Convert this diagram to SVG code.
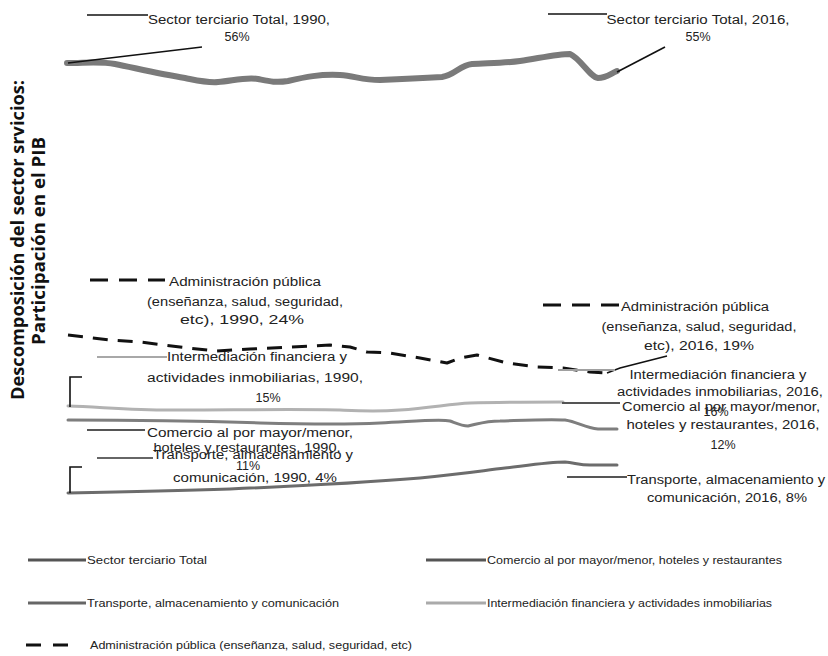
<svg xmlns="http://www.w3.org/2000/svg" width="828" height="656" viewBox="0 0 828 656">
<style>
  .lbl { font-family: "Liberation Sans", "DejaVu Sans", sans-serif; font-size: 12.5px; fill: #222; text-anchor: middle; }
  .leg { font-family: "Liberation Sans", "DejaVu Sans", sans-serif; font-size: 11px; fill: #222; }
  .ttl { font-family: "Open Sans", "Liberation Sans", sans-serif; font-size: 18px; font-weight: bold; fill: #111; text-anchor: middle; }
  .ser { fill: none; stroke-linejoin: round; stroke-linecap: round; }
  .total { stroke: #7a7a7a; stroke-width: 6; }
  .com { stroke: #7e7e7e; stroke-width: 3; }
  .tra { stroke: #6c6c6c; stroke-width: 3; }
  .int { stroke: #b2b2b2; stroke-width: 3; }
  .adm { stroke: #111; stroke-width: 3; stroke-dasharray: 15 10; stroke-linecap: butt; }
  .lead { fill: none; stroke: #111; stroke-width: 1.6; }
</style>
<rect width="828" height="656" fill="#fff"/>

<g id="axis-title">
  <text class="ttl" transform="translate(24,240) rotate(-90)" textLength="320" lengthAdjust="spacingAndGlyphs">Descomposición  del sector srvicios:</text>
  <text class="ttl" transform="translate(45,241) rotate(-90)" textLength="208" lengthAdjust="spacingAndGlyphs">Participación  en el PIB</text>
</g>

<g id="series-total">
  <path class="ser total" d="M67,63 C85,63 100,61 115,64 C135,68 160,74 185,78 C200,81 208,83 218,82 C232,81 245,77 258,79 C268,81 275,83 288,81 C305,77 320,74 340,75 C355,76 362,80 380,80 C405,79 425,78 442,77 C455,75 460,65 472,64 C490,63 505,63 520,61 C540,58 558,54 570,54 C580,58 590,77 598,78 C606,78 610,74 617,71"/>
</g>
<g id="series-admin">
  <polyline class="ser adm" points="68,335 110,340 140,342 180,347 215,351 250,349 290,347 330,345 350,347 367,352 390,353 420,358 447,363 460,358 477,355 507,363 537,367 563,368 590,372 607,373"/>
</g>
<g id="series-intermediacion">
  <path class="ser int" d="M68,406 C100,407 130,410 170,410 C230,410 300,409 340,410 C360,411 375,412 400,410 C430,408 450,404 470,403 C500,402 540,402 563,402"/>
</g>
<g id="series-comercio">
  <path class="ser com" d="M68,420 C130,420 200,421 260,423 C300,424 340,425 380,423 C420,421 440,419 450,421 C458,424 462,426 468,426 C478,424 485,421 500,421 C530,420 550,419 565,420 C578,422 585,428 598,429 L617,429"/>
</g>
<g id="series-transporte">
  <path class="ser tra" d="M68,493 C120,492 170,491 230,489 C300,486 360,483 420,478 C460,474 480,471 505,468 C530,465 550,462 565,462 C575,463 580,465 590,465 L617,465"/>
</g>

<g id="connectors">
  <line class="lead" x1="87" y1="15" x2="148" y2="15"/>
  <line class="lead" x1="68" y1="63" x2="202" y2="47"/>
  <line class="lead" x1="548" y1="14" x2="607" y2="14"/>
  <line class="lead" x1="617" y1="72" x2="665" y2="47"/>
  <line x1="90" y1="280" x2="165" y2="280" stroke="#111" stroke-width="3" stroke-dasharray="18 11"/>
  <line x1="543" y1="305" x2="620" y2="305" stroke="#111" stroke-width="3" stroke-dasharray="18 11"/>
  <polyline class="lead" points="607,373 620,368 667,356"/>
  <line x1="97" y1="357" x2="167" y2="357" stroke="#a8a8a8" stroke-width="2"/>
  <line x1="558" y1="370" x2="615" y2="370" stroke="#a0a0a0" stroke-width="2"/>
  <polyline class="lead" points="82,377 70,377 70,407"/>
  <line x1="87" y1="430" x2="145" y2="430" stroke="#555" stroke-width="2"/>
  <line x1="562" y1="403" x2="620" y2="403" stroke="#555" stroke-width="2"/>
  <line x1="97" y1="458" x2="153" y2="458" stroke="#666" stroke-width="2"/>
  <polyline class="lead" points="82,467 70,467 70,493"/>
  <line x1="567" y1="477" x2="627" y2="477" stroke="#555" stroke-width="2"/>
</g>

<g id="label-total-1990">
  <text class="lbl" x="239" y="24" textLength="182" lengthAdjust="spacingAndGlyphs">Sector terciario Total, 1990,</text>
  <text class="lbl" x="237" y="41">56%</text>
</g>
<g id="label-total-2016">
  <text class="lbl" x="698" y="24" textLength="183" lengthAdjust="spacingAndGlyphs">Sector terciario Total, 2016,</text>
  <text class="lbl" x="698" y="41">55%</text>
</g>
<g id="label-admin-1990">
  <text class="lbl" x="245" y="286" textLength="152" lengthAdjust="spacingAndGlyphs">Administración pública</text>
  <text class="lbl" x="245" y="306" textLength="196" lengthAdjust="spacingAndGlyphs">(enseñanza, salud, seguridad,</text>
  <text class="lbl" x="242" y="324" textLength="124" lengthAdjust="spacingAndGlyphs">etc), 1990, 24%</text>
</g>
<g id="label-admin-2016">
  <text class="lbl" x="695" y="311" textLength="148" lengthAdjust="spacingAndGlyphs">Administración pública</text>
  <text class="lbl" x="699" y="331" textLength="195" lengthAdjust="spacingAndGlyphs">(enseñanza, salud, seguridad,</text>
  <text class="lbl" x="699" y="350" textLength="110" lengthAdjust="spacingAndGlyphs">etc), 2016, 19%</text>
</g>
<g id="label-int-1990">
  <text class="lbl" x="257" y="361" textLength="180" lengthAdjust="spacingAndGlyphs">Intermediación financiera y</text>
  <text class="lbl" x="255" y="382" textLength="216" lengthAdjust="spacingAndGlyphs">actividades inmobiliarias, 1990,</text>
  <text class="lbl" x="268" y="402">15%</text>
</g>
<g id="label-int-2016">
  <text class="lbl" x="718" y="379" textLength="177" lengthAdjust="spacingAndGlyphs">Intermediación financiera y</text>
  <text class="lbl" x="720" y="396" textLength="206" lengthAdjust="spacingAndGlyphs">actividades inmobiliarias, 2016,</text>
  <text class="lbl" x="716" y="416">16%</text>
</g>
<g id="label-com-1990">
  <text class="lbl" x="250" y="437" textLength="206" lengthAdjust="spacingAndGlyphs">Comercio al por mayor/menor,</text>
  <text class="lbl" x="247" y="452" textLength="187" lengthAdjust="spacingAndGlyphs">hoteles y restaurantes, 1990,</text>
  <text class="lbl" x="248" y="470">11%</text>
</g>
<g id="label-com-2016">
  <text class="lbl" x="721" y="411" textLength="198" lengthAdjust="spacingAndGlyphs">Comercio al por mayor/menor,</text>
  <text class="lbl" x="723" y="429" textLength="193" lengthAdjust="spacingAndGlyphs">hoteles y restaurantes, 2016,</text>
  <text class="lbl" x="723" y="449">12%</text>
</g>
<g id="label-tra-1990">
  <text class="lbl" x="253" y="459" textLength="200" lengthAdjust="spacingAndGlyphs">Transporte, almacenamiento y</text>
  <text class="lbl" x="255" y="482" textLength="164" lengthAdjust="spacingAndGlyphs">comunicación, 1990, 4%</text>
</g>
<g id="label-tra-2016">
  <text class="lbl" x="726" y="484" textLength="198" lengthAdjust="spacingAndGlyphs">Transporte, almacenamiento y</text>
  <text class="lbl" x="727" y="502" textLength="160" lengthAdjust="spacingAndGlyphs">comunicación, 2016, 8%</text>
</g>

<g id="legend">
  <line x1="28" y1="560" x2="86" y2="560" stroke="#555" stroke-width="3"/>
  <text class="leg" x="87" y="564" textLength="120" lengthAdjust="spacingAndGlyphs">Sector terciario Total</text>
  <line x1="426" y1="560" x2="486" y2="560" stroke="#555" stroke-width="3"/>
  <text class="leg" x="487" y="564" textLength="295" lengthAdjust="spacingAndGlyphs">Comercio al por mayor/menor, hoteles y restaurantes</text>
  <line x1="28" y1="603" x2="86" y2="603" stroke="#666" stroke-width="3"/>
  <text class="leg" x="87" y="607" textLength="252" lengthAdjust="spacingAndGlyphs">Transporte, almacenamiento y comunicación</text>
  <line x1="426" y1="603" x2="486" y2="603" stroke="#aaa" stroke-width="3"/>
  <text class="leg" x="487" y="607" textLength="285" lengthAdjust="spacingAndGlyphs">Intermediación financiera y actividades inmobiliarias</text>
  <line x1="26" y1="645" x2="76" y2="645" stroke="#111" stroke-width="3" stroke-dasharray="15 12"/>
  <text class="leg" x="90" y="649" textLength="322" lengthAdjust="spacingAndGlyphs">Administración pública (enseñanza, salud, seguridad, etc)</text>
</g>
</svg>
